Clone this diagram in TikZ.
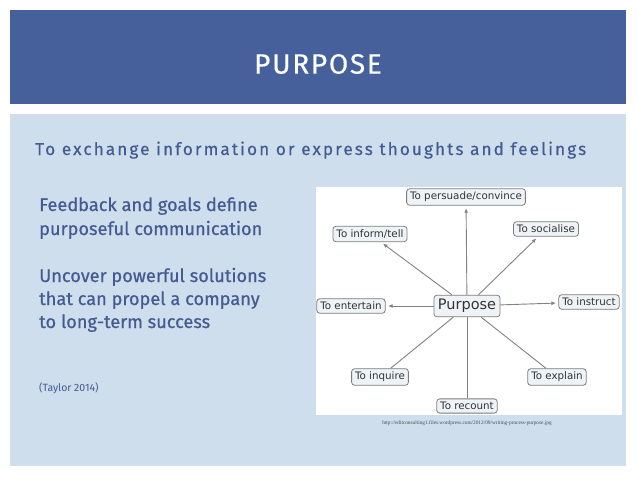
\documentclass[tikz,border=0pt]{standalone}
\usepackage{fontspec}
\setmainfont{Fira Sans}
\newfontfamily\titlefont[LetterSpace=6,FakeBold=0.3]{Fira Sans}
\newfontfamily\subfont[LetterSpace=12,FakeBold=0.4]{Fira Sans}
\newfontfamily\bodyfont[FakeBold=0.6]{Fira Sans}
\newfontfamily\diafont{DejaVu Sans}
\newfontfamily\urlfont{Liberation Serif}
\usetikzlibrary{arrows.meta}
\definecolor{hdr}{RGB}{70,96,155}
\definecolor{panel}{RGB}{206,222,236}
\definecolor{txtblue}{RGB}{68,90,145}
\definecolor{boxfill}{RGB}{238,243,247}
\definecolor{boxline}{RGB}{125,125,125}
\definecolor{conn}{RGB}{130,130,130}
\tikzset{
  dbox/.style={draw=boxline, fill=boxfill, rounded corners=3pt, line width=0.8pt,
    inner xsep=3.5pt, inner ysep=3.3pt, font=\diafont\fontsize{10.3}{12}\selectfont, text=black!80},
  pbox/.style={dbox, font=\diafont\fontsize{14.5}{16}\selectfont, inner xsep=4pt, inner ysep=4pt},
  arr/.style={draw=conn, line width=0.9pt, -{Latex[length=4.5pt,width=4pt]}, shorten >=2.5pt},
  ln/.style={draw=conn, line width=0.9pt},
  body/.style={anchor=base west, text=txtblue, font=\bodyfont\fontsize{18.2}{22}\selectfont, inner sep=0pt}
}
\begin{document}
\begin{tikzpicture}[x=1pt,y=-1pt]
\useasboundingbox (0,0) rectangle (638,479);
\fill[white] (0,0) rectangle (638,479);
\fill[hdr] (10,10) rectangle (626,104);
\fill[panel] (10,114) rectangle (626,466);
\node[text=white, font=\titlefont\fontsize{28}{32}\selectfont] (title) at (318,64) {PURPOSE};
\node[anchor=base west, text=txtblue, font=\subfont\fontsize{17.2}{20}\selectfont, inner sep=0pt] (sub) at (35,155) {To exchange information or express thoughts and feelings};
\node[body] (b1) at (39,211) {Feedback and goals define};
\node[body] (b2) at (39,235) {purposeful communication};
\node[body] (b3) at (39,282) {Uncover powerful solutions};
\node[body] (b4) at (39,305) {that can propel a company};
\node[body] (b5) at (39,328) {to long-term success};
\node[anchor=base west, text=txtblue, font=\fontsize{10.5}{12}\selectfont, inner sep=0pt] (ref) at (39,391) {(Taylor 2014)};
% image
\fill[white] (316,187) rectangle (622,415);
\node[pbox] (purp) at (467,306) {Purpose};
\node[dbox] (pers) at (466,197) {To persuade/convince};
\node[dbox] (inf) at (370,234) {To inform/tell};
\node[dbox] (soc) at (546,229) {To socialise};
\node[dbox] (ent) at (351,306) {To entertain};
\node[dbox] (ins) at (589,302) {To instruct};
\node[dbox] (inq) at (380,377) {To inquire};
\node[dbox] (exp) at (557,377) {To explain};
\node[dbox] (rec) at (467,406) {To recount};
\draw[arr] (purp) -- (pers);
\draw[arr] (purp) -- (inf);
\draw[arr] (purp) -- (soc);
\draw[arr] (purp) -- (ent);
\draw[arr] (purp) -- (ins);
\draw[ln] (purp) -- (inq);
\draw[ln] (purp) -- (exp);
\draw[ln] (purp) -- (rec);
\node[text=black!70, font=\urlfont\fontsize{5.3}{6}\selectfont, inner sep=0pt] (url) at (467,423) {http://editconsulting1.files.wordpress.com/2012/09/writing-process-purpose.jpg};
\end{tikzpicture}
\end{document}
